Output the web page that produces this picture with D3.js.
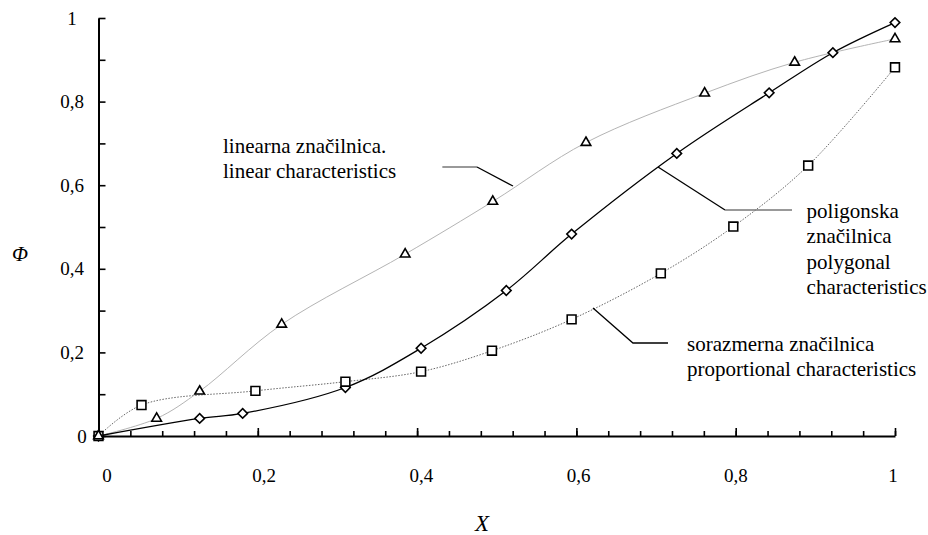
<!DOCTYPE html>
<html>
<head>
<meta charset="utf-8">
<script src="https://cdn.jsdelivr.net/npm/d3@7"></script>
<style>
  body { margin: 0; background: #fff; }
  svg { display: block; }
</style>
</head>
<body>
<div id="chart"></div>
<script>
// values
const polygonalX = [0, 0.127, 0.181, 0.310, 0.405, 0.512, 0.594, 0.726, 0.842, 0.922, 1];
const polygonalY = [0, 0.042, 0.054, 0.116, 0.210, 0.348, 0.483, 0.676, 0.821, 0.917, 0.989];
const linearX = [0, 0.073, 0.127, 0.230, 0.385, 0.495, 0.612, 0.761, 0.874, 1];
const linearY = [0, 0.042, 0.107, 0.267, 0.435, 0.561, 0.702, 0.820, 0.894, 0.950];
const proportionalX = [0, 0.054, 0.197, 0.310, 0.405, 0.494, 0.594, 0.706, 0.797, 0.891, 1];
const proportionalY = [0, 0.074, 0.108, 0.130, 0.154, 0.204, 0.279, 0.389, 0.501, 0.647, 0.882];

const xTicks = [0, 0.2, 0.4, 0.6, 0.8, 1];
const xTickLabels = ['0', '0,2', '0,4', '0,6', '0,8', '1'];
const yTicks = [0, 0.2, 0.4, 0.6, 0.8, 1];
const yTickLabels = ['0', '0,2', '0,4', '0,6', '0,8', '1'];

const linearText = ['linearna značilnica.', 'linear characteristics'];
const polygonalText = ['poligonska', 'značilnica', 'polygonal', 'characteristics'];
const proportionalText = ['sorazmerna značilnica', 'proportional characteristics'];

const w = 928;
const h = 535;
const serif = 'Liberation Serif';

const xScale = d3.scaleLinear().domain([0, 1]).range([98.5, 895]);
const yScale = d3.scaleLinear().domain([0, 1]).range([436, 18]);
// Excel put the x labels a little off the ticks
const xLabelScale = d3.scaleLinear().domain([0, 1]).range([107, 893]);

const svg = d3.select('#chart')
    .append('svg')
    .attr('width', w)
    .attr('height', h);

const zip = (xs, ys) => xs.map((x, i) => ({ x, y: ys[i] }));
const line = d3.line()
    .x(d => xScale(d.x))
    .y(d => yScale(d.y))
    .curve(d3.curveCatmullRom.alpha(0.5));

// series lines
svg.append('path')
    .datum(zip(proportionalX, proportionalY))
    .attr('d', line)
    .attr('fill', 'none')
    .attr('stroke', '#666')
    .attr('stroke-width', 1)
    .attr('stroke-dasharray', '1.5,1.5');

svg.append('path')
    .datum(zip(linearX, linearY))
    .attr('d', line)
    .attr('fill', 'none')
    .attr('stroke', '#b4b4b4')
    .attr('stroke-width', 1);

svg.append('path')
    .datum(zip(polygonalX, polygonalY))
    .attr('d', line)
    .attr('fill', 'none')
    .attr('stroke', '#000')
    .attr('stroke-width', 1.3);

// axes
svg.append('g')
    .attr('transform', `translate(0, ${yScale(0)})`)
    .call(d3.axisBottom(xScale).tickValues(d3.range(0, 1.001, 0.04)).tickSize(-5).tickSizeOuter(0).tickFormat(''))
    .call(g => g.select('.domain').attr('stroke-width', 2));

svg.append('g')
    .attr('transform', `translate(0, ${yScale(0)})`)
    .call(d3.axisBottom(xScale).tickValues(xTicks).tickSize(-8).tickSizeOuter(0).tickFormat(''))
    .call(g => g.select('.domain').remove());

svg.append('g')
    .attr('transform', `translate(${xScale(0)}, 0)`)
    .call(d3.axisLeft(yScale).tickValues(d3.range(0, 1.001, 0.1)).tickSize(-7).tickSizeOuter(0).tickFormat(''))
    .call(g => g.select('.domain').attr('stroke-width', 2));

svg.selectAll('g line').attr('stroke-width', 1.6);

svg.selectAll('.xlabel')
    .data(xTicks)
    .enter()
    .append('text')
    .attr('x', d => xLabelScale(d))
    .attr('y', 482)
    .attr('text-anchor', 'middle')
    .attr('font-family', serif)
    .attr('font-size', 19)
    .text((d, i) => xTickLabels[i]);

svg.selectAll('.ylabel')
    .data(yTicks)
    .enter()
    .append('text')
    .attr('x', d => d === 0 ? 82 : 72)
    .attr('y', d => yScale(d))
    .attr('dy', '0.35em')
    .attr('text-anchor', 'middle')
    .attr('font-family', serif)
    .attr('font-size', 19)
    .text((d, i) => yTickLabels[i]);

svg.append('text')
    .attr('x', 20)
    .attr('y', 261)
    .attr('text-anchor', 'middle')
    .attr('font-family', serif)
    .attr('font-style', 'italic')
    .attr('font-size', 21)
    .text('Φ');

svg.append('text')
    .attr('x', 482)
    .attr('y', 531)
    .attr('text-anchor', 'middle')
    .attr('font-family', serif)
    .attr('font-style', 'italic')
    .attr('font-size', 23)
    .text('X');

// markers
const marker = (xs, ys, type, size, rotate) => {
    svg.append('g')
        .selectAll('path')
        .data(zip(xs, ys))
        .enter()
        .append('path')
        .attr('transform', d => `translate(${xScale(d.x)}, ${yScale(d.y)}) rotate(${rotate})`)
        .attr('d', d3.symbol().type(type).size(size))
        .attr('fill', '#fff')
        .attr('stroke', '#000')
        .attr('stroke-width', 1.6);
};
marker(polygonalX, polygonalY, d3.symbolSquare, 46, 45);
marker(proportionalX, proportionalY, d3.symbolSquare, 78, 0);
marker(linearX, linearY, d3.symbolTriangle, 40, 0);

// callouts, in data units
const leader = (pts, color) => {
    svg.append('path')
        .attr('d', d3.line().x(d => xScale(d[0])).y(d => yScale(d[1]))(pts))
        .attr('fill', 'none')
        .attr('stroke', color)
        .attr('stroke-width', 1.3);
};
leader([[0.4317, 0.6435], [0.4752, 0.6435]], '#777');
leader([[0.4752, 0.6435], [0.5204, 0.598]], '#000');
leader([[0.7025, 0.6435], [0.7866, 0.5407]], '#000');
leader([[0.7866, 0.5407], [0.8707, 0.5407]], '#777');
leader([[0.6208, 0.3062], [0.671, 0.2225], [0.715, 0.2225]], '#000');

const label = (lines, x, y, step) => {
    svg.append('g')
        .selectAll('text')
        .data(lines)
        .enter()
        .append('text')
        .attr('x', xScale(x))
        .attr('y', (d, i) => yScale(y) + i * step)
        .attr('font-family', serif)
        .attr('font-size', 21)
        .text(d => d);
};
label(linearText, 0.1563, 0.676, 25);
label(polygonalText, 0.889, 0.522, 25.5);
label(proportionalText, 0.739, 0.203, 25);
</script>
</body>
</html>
